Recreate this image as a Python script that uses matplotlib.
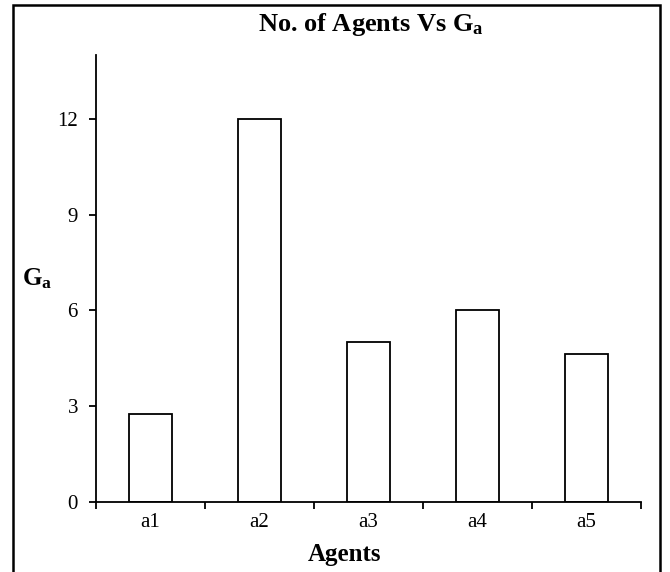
import matplotlib
matplotlib.use("Agg")
import matplotlib.pyplot as plt
from matplotlib.patches import Rectangle

plt.rcParams["font.family"] = ["Liberation Serif", "DejaVu Serif"]
plt.rcParams["mathtext.fontset"] = "custom"
plt.rcParams["mathtext.rm"] = "Liberation Serif"
plt.rcParams["mathtext.bf"] = "Liberation Serif:bold"

agents = ["a1", "a2", "a3", "a4", "a5"]
ga_values = [2.77, 12.0, 5.02, 6.0, 4.63]
y_ticks = [0, 3, 6, 9, 12]

W, H = 670, 572
fig = plt.figure(figsize=(W / 100, H / 100), dpi=100)
ax = fig.add_axes([96 / W, 1 - 502 / H, (641 - 96) / W, (502 - 55) / H])

x = list(range(1, len(agents) + 1))
ax.bar(x, ga_values, width=0.4, color="white", edgecolor="black", linewidth=1.3)

ax.set_xlim(0.5, len(agents) + 0.5)
ax.set_ylim(0, 14)
ax.set_yticks(y_ticks)
ax.set_xticks(x)
ax.set_xticklabels(agents)
ax.set_xticks([i + 0.5 for i in range(len(agents) + 1)], minor=True)

ax.tick_params(axis="x", which="major", length=0, pad=8, labelsize=15)
ax.tick_params(axis="x", which="minor", length=5, width=1.3, direction="out")
ax.tick_params(axis="y", length=5, width=1.3, direction="out", pad=8, labelsize=15)

for side in ("top", "right"):
    ax.spines[side].set_visible(False)
for side in ("left", "bottom"):
    ax.spines[side].set_linewidth(1.3)

fig.text(371 / W, 1 - 25 / H, r"No. of Agents Vs $\mathbf{G_a}$", ha="center", va="center",
         fontsize=19, fontweight="bold")
fig.text(344 / W, 1 - 554 / H, "Agents", ha="center", va="center", fontsize=18, fontweight="bold")
fig.text(37 / W, 1 - 279 / H, r"$\mathbf{G_a}$", ha="center", va="center", fontsize=18)

# outer frame around the chart, bottom edge falls off the canvas
fig.patches.append(Rectangle((13 / W, -0.05), (660 - 13) / W, 1.05 - 5 / H,
                             transform=fig.transFigure, fill=False, edgecolor="black", linewidth=1.8))

fig.savefig("out.png", dpi=100)
